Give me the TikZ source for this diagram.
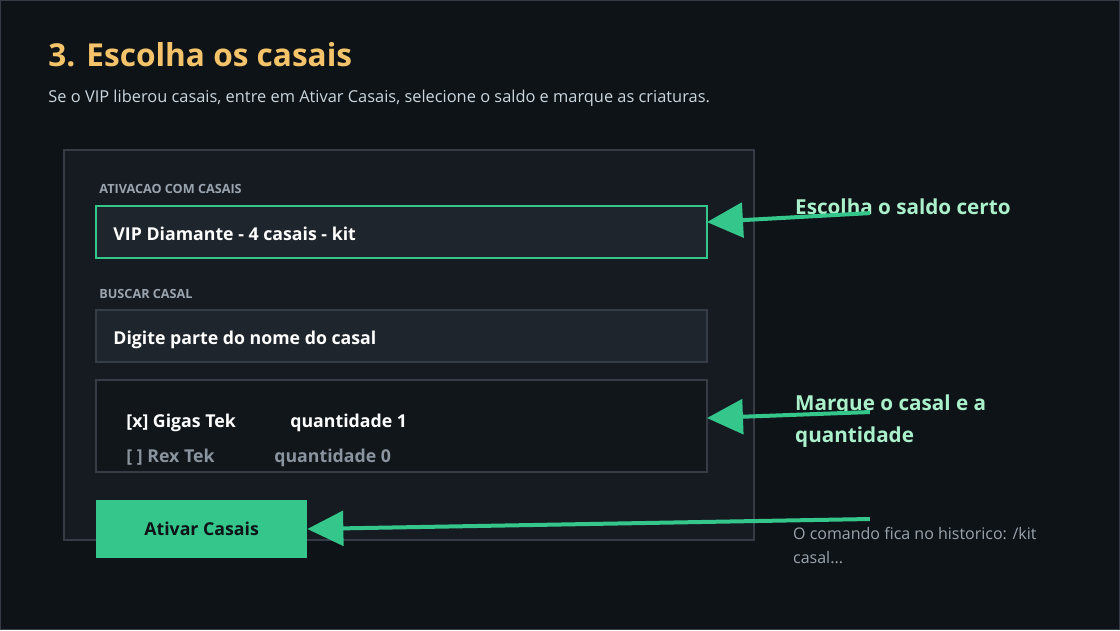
\documentclass[tikz,border=0pt]{standalone}
\usepackage{fontspec}
\setmainfont{Open Sans}
\usetikzlibrary{arrows.meta}
\definecolor{bg}{HTML}{0E1317}
\definecolor{panel}{HTML}{161B21}
\definecolor{field}{HTML}{1F252C}
\definecolor{listbg}{HTML}{11161B}
\definecolor{edge}{HTML}{353C45}
\definecolor{grn}{HTML}{34C68B}
\definecolor{ttl}{HTML}{F5C46A}
\definecolor{sub}{HTML}{C9D6DE}
\definecolor{lbl}{HTML}{9AA4AE}
\definecolor{note}{HTML}{A9F0CB}
\definecolor{dim}{HTML}{8A949E}
\begin{document}
\begin{tikzpicture}[x=0.75pt,y=-0.75pt,
  fld/.style={draw=edge,line width=1.2pt,fill=field},
  lab/.style={anchor=base west,text=lbl,font=\bfseries\fontsize{9.5}{11}\selectfont,inner sep=0},
  ftxt/.style={anchor=base west,text=white,font=\bfseries\fontsize{13.3}{15}\selectfont,inner sep=0},
  note/.style={anchor=base west,text=note,font=\bfseries\fontsize{15.5}{24}\selectfont,inner sep=0,align=left},
  arr/.style={grn,line width=3pt,-{Triangle[length=27pt,width=26pt]}}]
\fill[bg] (0,0) rectangle (1120,630);
\draw[edge,line width=1pt] (0.5,0.5) rectangle (1119.5,629.5);
\node[anchor=base west,inner sep=0,text=ttl,font=\bfseries\fontsize{23.7}{28}\selectfont] (t) at (48,66) {3. Escolha os casais};
\node[anchor=base west,inner sep=0,text=sub,font=\fontsize{12.3}{14}\selectfont] (s) at (48,102) {Se o VIP liberou casais, entre em Ativar Casais, selecione o saldo e marque as criaturas.};
\draw[edge,fill=panel,line width=1.2pt] (64,150) rectangle (754,540);
\node[lab] (l1) at (99,193) {ATIVACAO COM CASAIS};
\draw[fld,draw=grn] (96,206) rectangle (707,258);
\coordinate (f1) at (707,222);
\node[ftxt] (t1) at (113,240) {VIP Diamante - 4 casais - kit};
\node[lab] (l2) at (99,298) {BUSCAR CASAL};
\draw[fld] (96,310) rectangle (707,362);
\node[ftxt] (t2) at (113,344) {Digite parte do nome do casal};
\draw[fld,fill=listbg] (96,380) rectangle (707,472);
\coordinate (f2) at (707,418);
\node[ftxt] (g1) at (126,427) {[x] Gigas Tek};
\node[ftxt] (g2) at (290,427) {quantidade 1};
\node[ftxt,text=dim] (r1) at (126,462) {[ ] Rex Tek};
\node[ftxt,text=dim] (r2) at (274,462) {quantidade 0};
\node[fill=grn,minimum width=211*0.75pt,minimum height=58*0.75pt,inner sep=0,text=bg,font=\bfseries\fontsize{13.3}{15}\selectfont] (btn) at (201.5,529) {Ativar Casais};
\node[note] (n1) at (795,214) {Escolha o saldo certo};
\node[note] (n2) at (795,442) {Marque o casal e a\\quantidade};
\node[anchor=base west,inner sep=0,text=lbl,font=\fontsize{12}{18}\selectfont,align=left] (n3) at (793,563) {O comando fica no historico: /kit\\casal...};
\coordinate (a1) at (870,213);
\coordinate (a2) at (870,412);
\coordinate (a3) at (870,519);
\draw[arr] (a1) -- (f1);
\draw[arr] (a2) -- (f2);
\draw[arr] (a3) -- (btn.east);
\end{tikzpicture}
\end{document}
